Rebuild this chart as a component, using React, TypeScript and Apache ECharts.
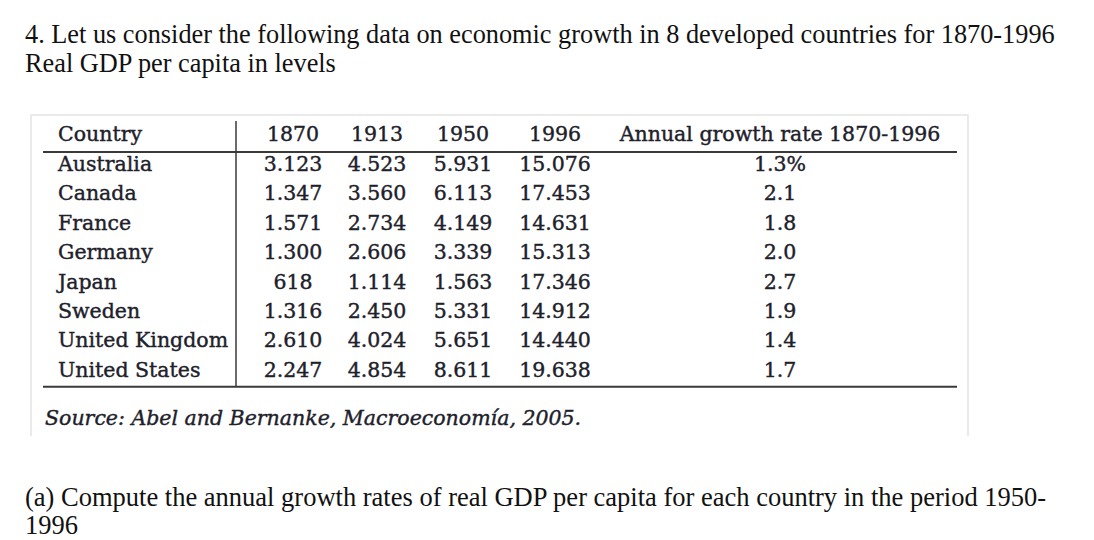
import React, { useEffect, useRef } from "react";
import * as echarts from "echarts";

const titleLines = [
  "4. Let us consider the following data on economic growth in 8 developed countries for 1870-1996",
  "Real GDP per capita in levels",
];
const headers = ["Country", "1870", "1913", "1950", "1996", "Annual growth rate 1870-1996"];
const countries = ["Australia", "Canada", "France", "Germany", "Japan", "Sweden", "United Kingdom", "United States"];
const gdp1870 = ["3.123", "1.347", "1.571", "1.300", "618", "1.316", "2.610", "2.247"];
const gdp1913 = ["4.523", "3.560", "2.734", "2.606", "1.114", "2.450", "4.024", "4.854"];
const gdp1950 = ["5.931", "6.113", "4.149", "3.339", "1.563", "5.331", "5.651", "8.611"];
const gdp1996 = ["15.076", "17.453", "14.631", "15.313", "17.346", "14.912", "14.440", "19.638"];
const growth = ["1.3%", "2.1", "1.8", "2.0", "2.7", "1.9", "1.4", "1.7"];
const sourceText = "Source: Abel and Bernanke, Macroeconomía, 2005.";
const questionLines = [
  "(a) Compute the annual growth rates of real GDP per capita for each country in the period 1950-",
  "1996",
];

export default function App() {
  const ref = useRef<HTMLDivElement>(null);
  useEffect(() => {
    if (!ref.current) return;
    const chart = echarts.init(ref.current, null, { renderer: "svg" });
    const tFont = "Liberation Serif";
    const cFont = "DejaVu Serif";
    const tColor = "#111";
    const cColor = "#20202a";
    const cellStyle = (text: string, left: boolean, italic = false) => ({
      text,
      font: `${italic ? "italic " : ""}20.5px "${cFont}"`,
      fill: cColor,
      stroke: cColor,
      lineWidth: 0.4,
      textAlign: left ? "left" : "center",
      textVerticalAlign: "middle",
    });
    const els: any[] = [];
    titleLines.forEach((t, i) => {
      els.push({
        type: "text", x: 25, y: 34 + i * 29,
        style: { text: t, font: `26.3px "${tFont}"`, fill: tColor, textAlign: "left", textVerticalAlign: "middle" },
      });
    });
    // image frame
    els.push({
      type: "polyline",
      shape: { points: [[31, 436], [31, 115], [968, 115], [968, 436]] },
      style: { stroke: "#e4e4e4", lineWidth: 1.5, fill: null },
    });
    const colX = [58, 293, 377, 463, 555, 780];
    const headY = 134;
    const rowY0 = 164;
    const step = 29.4;
    headers.forEach((h, i) => {
      els.push({ type: "text", x: colX[i], y: headY, style: cellStyle(h, i === 0) });
    });
    const cols = [countries, gdp1870, gdp1913, gdp1950, gdp1996, growth];
    cols.forEach((col, ci) => {
      col.forEach((v, ri) => {
        els.push({ type: "text", x: colX[ci], y: rowY0 + ri * step, style: cellStyle(v, ci === 0) });
      });
    });
    const lastY = rowY0 + (countries.length - 1) * step;
    els.push({ type: "line", shape: { x1: 43, y1: 152, x2: 957, y2: 152 }, style: { stroke: "#3a3a3a", lineWidth: 2 } });
    els.push({ type: "line", shape: { x1: 43, y1: lastY + 17, x2: 957, y2: lastY + 17 }, style: { stroke: "#3a3a3a", lineWidth: 2 } });
    els.push({ type: "line", shape: { x1: 236, y1: 121, x2: 236, y2: lastY + 17 }, style: { stroke: "#3a3a3a", lineWidth: 1.5 } });
    els.push({ type: "text", x: 45, y: 418, style: cellStyle(sourceText, true, true) });
    questionLines.forEach((t, i) => {
      els.push({
        type: "text", x: 25, y: 497 + i * 28,
        style: { text: t, font: `26.5px "${tFont}"`, fill: tColor, textAlign: "left", textVerticalAlign: "middle" },
      });
    });
    chart.setOption({ animation: false, backgroundColor: "#ffffff", graphic: { elements: els } });
    return () => chart.dispose();
  }, []);
  return (
    <div
      ref={ref}
      style={{ position: "fixed", left: 0, top: 0, width: 1094, height: 540, background: "#fff" }}
    />
  );
}
